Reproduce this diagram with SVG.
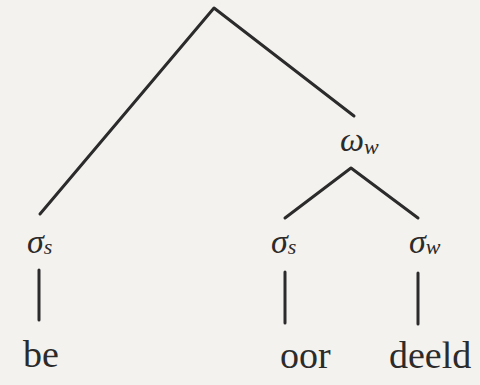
<svg xmlns="http://www.w3.org/2000/svg" width="480" height="385" viewBox="0 0 480 385">
<style>
.ln{stroke:#2b2b2b;stroke-width:3;fill:none;stroke-linecap:round;stroke-linejoin:round}
.sym{font-family:"Liberation Serif",serif;font-style:italic;fill:#2b2b2b}
.word{font-family:"Liberation Serif",serif;font-size:38px;fill:#2b2b2b}
</style>
<rect width="480" height="385" fill="#f4f2ee"/>
<g id="connectors">
<polyline class="ln" points="40,214 214,8 354,116"/>
<polyline class="ln" points="285,218 351,168 418,218"/>
<line class="ln" x1="39" y1="270" x2="39" y2="320"/>
<line class="ln" x1="285" y1="272" x2="285" y2="323"/>
<line class="ln" x1="418" y1="273" x2="418" y2="324"/>
</g>
<g id="omega-w"><text class="sym" x="340" y="151" font-size="34">ω<tspan font-size="22" dy="3">w</tspan></text></g>
<g id="sigma-s-1"><text class="sym" x="27" y="253" font-size="34">σ<tspan font-size="22" dy="1">s</tspan></text></g>
<g id="sigma-s-2"><text class="sym" x="271" y="253" font-size="34">σ<tspan font-size="22" dy="1">s</tspan></text></g>
<g id="sigma-w"><text class="sym" x="409" y="253" font-size="34">σ<tspan font-size="22" dy="1">w</tspan></text></g>
<g id="be"><text class="word" x="23" y="367">be</text></g>
<g id="oor"><text class="word" x="280" y="368">oor</text></g>
<g id="deeld"><text class="word" x="389" y="368">deeld</text></g>
</svg>
